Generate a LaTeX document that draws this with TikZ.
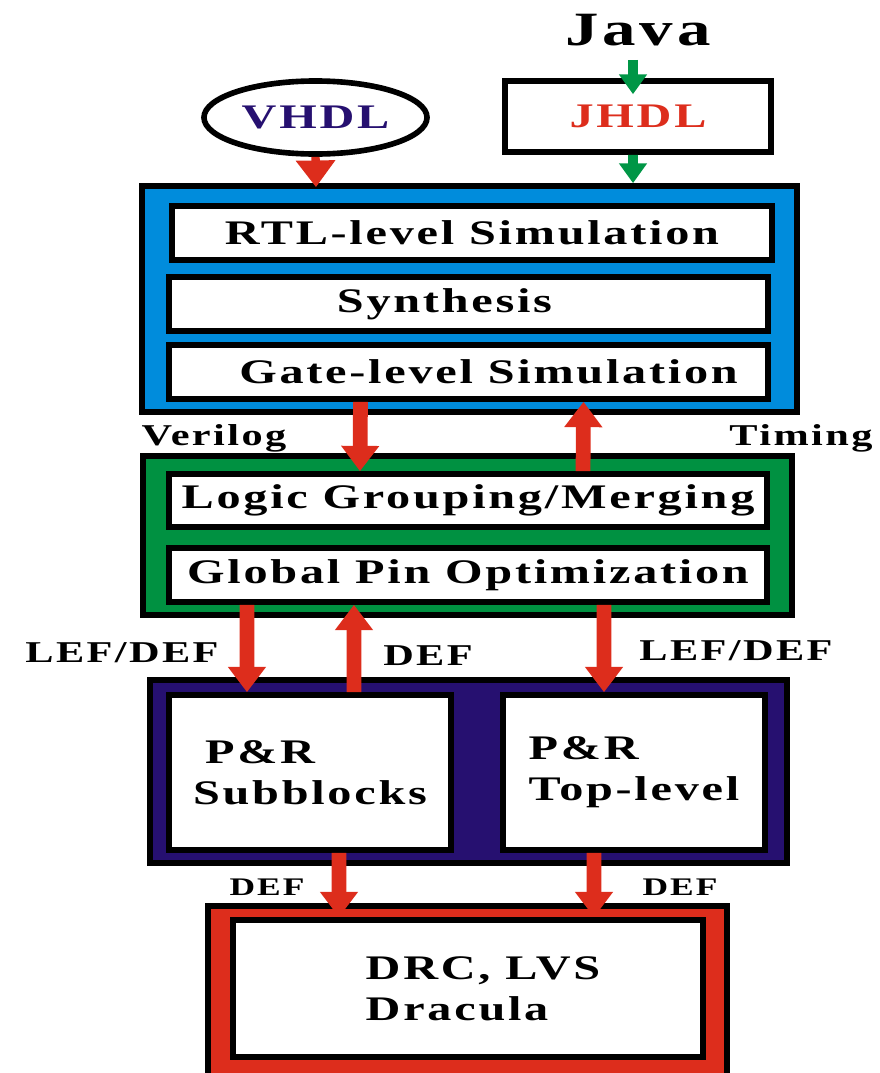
\documentclass[tikz,border=0pt]{standalone}
\usepackage{fontspec}
\setmainfont{Liberation Serif}[LetterSpace=8,FakeStretch=1.4]
\usetikzlibrary{arrows.meta, positioning, shapes.geometric}

\definecolor{simblue}{RGB}{0,140,220}
\definecolor{partgreen}{RGB}{0,145,65}
\definecolor{pnrnavy}{RGB}{38,16,112}
\definecolor{flowred}{RGB}{221,45,28}
\definecolor{flowgreen}{RGB}{0,150,70}

\newcommand{\stagefont}{\bfseries\fontsize{24.5}{29}\selectfont}
\newcommand{\tagfont}{\bfseries\fontsize{21.5}{25}\selectfont}

\begin{document}
\begin{tikzpicture}[x=0.025cm, y=-0.025cm,
        outerbox/.style={draw=black, line width=4pt, inner sep=0pt},
        stage/.style={draw=black, fill=white, line width=4pt, inner sep=0pt, font=\stagefont, align=left},
        tag/.style={inner sep=0pt, anchor=base, font=\tagfont},
        fatarrow/.style={color=flowred, line width=10.5pt, -{Triangle[width=26pt,length=18pt]}},
        thinarrow/.style={color=flowgreen, line width=7pt, -{Triangle[width=19pt,length=14pt]}}]
        \clip (0,0) rectangle (880,1073);

        % inputs
        \node[inner sep=0pt, anchor=base, font=\bfseries\fontsize{34}{40}\selectfont] (java) at (638,45) {Java};
        \node[outerbox, fill=white, minimum width=6.65cm, minimum height=1.775cm, font=\stagefont, text=flowred] (jhdl) at (638,116.5) {JHDL};
        \node[outerbox, ellipse, fill=white, minimum width=5.575cm, minimum height=1.825cm, font=\stagefont, text=pnrnavy] (vhdl) at (315.5,117.5) {VHDL};

        % simulation
        \node[outerbox, fill=simblue, minimum width=16.375cm, minimum height=5.65cm] (sim) at (469.5,299) {};
        \node[stage, minimum width=15cm, minimum height=1.35cm] (rtl) at (472,233) {RTL-level Simulation};
        \node[stage, minimum width=14.975cm, minimum height=1.35cm] (synth) at (468.5,304) {Synthesis\hspace{1.2cm}};
        \node[stage, minimum width=14.975cm, minimum height=1.35cm] (gate) at (468.5,372) {\hspace{1cm}Gate-level Simulation};

        % partitioning
        \node[outerbox, fill=partgreen, minimum width=16.225cm, minimum height=3.975cm] (part) at (467.5,535.5) {};
        \node[stage, minimum width=14.95cm, minimum height=1.325cm] (logic) at (468,500.5) {Logic Grouping/Merging};
        \node[stage, minimum width=14.95cm, minimum height=1.35cm] (pin) at (468,575) {Global Pin Optimization};

        % place and route
        \node[outerbox, fill=pnrnavy, minimum width=15.925cm, minimum height=4.575cm] (pnr) at (468.5,771.5) {};
        \node[stage, minimum width=7.05cm, minimum height=3.875cm] (sub) at (310,772.5) {\hspace{0.3cm}P\&R\\Subblocks};
        \node[stage, minimum width=6.55cm, minimum height=3.875cm] (top) at (634,772.5) {P\&R\\Top-level};

        % verification
        \node[outerbox, fill=flowred, minimum width=12.975cm, minimum height=4.6cm] (ver) at (467.5,998) {};
        \node[stage, minimum width=11.75cm, minimum height=3.425cm] (drc) at (468,988.5) {\hspace{0.75cm}DRC, LVS\\\hspace{0.75cm}Dracula};

        % labels
        \node[tag] (verilog) at (214,445) {Verilog};
        \node[tag] (timing) at (801,445) {Timing};
        \node[tag] (lefdefL) at (122,662) {LEF/DEF};
        \node[tag] (defM) at (428,665) {DEF};
        \node[tag] (lefdefR) at (736,660) {LEF/DEF};
        \node[tag, font=\bfseries\fontsize{18}{21}\selectfont] (defL) at (267,895) {DEF};
        \node[tag, font=\bfseries\fontsize{18}{21}\selectfont] (defR) at (680,895) {DEF};

        \path[thinarrow]
        ([xshift=-0.125cm,yshift=-0.35cm]java.south) edge ([xshift=-0.125cm,yshift=-0.4cm]jhdl.north)
        ([xshift=-0.125cm]jhdl.south) edge ([xshift=4.0875cm]sim.north);
        \path[color=flowred, line width=6pt, -{Triangle[width=27pt,length=19pt]}]
        (vhdl.south) edge ([xshift=-3.8375cm,yshift=-0.1cm]sim.north);
        \path[fatarrow]
        ([xshift=-2.7cm]gate.south) edge ([xshift=-2.7cm]logic.north)
        ([xshift=2.875cm]logic.north) edge ([xshift=2.875cm]gate.south)
        ([xshift=-5.525cm]pin.south) edge ([xshift=-1.575cm]sub.north)
        ([xshift=1.1cm]sub.north) edge ([xshift=-2.85cm]pin.south)
        ([xshift=3.4cm]pin.south) edge ([xshift=-0.75cm]top.north)
        ([xshift=0.725cm]sub.south) edge ([xshift=-3.225cm]drc.north)
        ([xshift=-1cm]top.south) edge ([xshift=3.15cm]drc.north);
\end{tikzpicture}
\end{document}
